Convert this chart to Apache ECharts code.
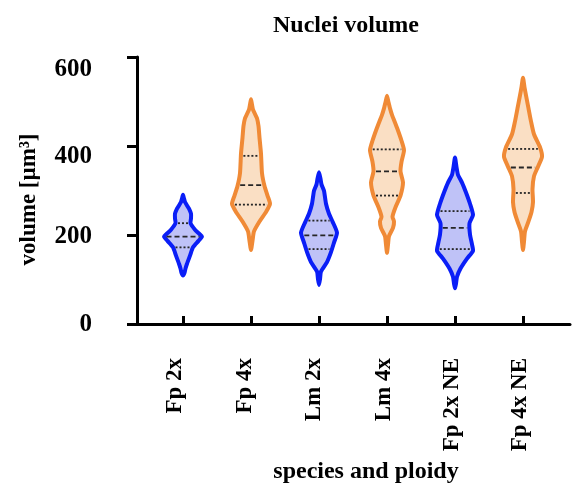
<!DOCTYPE html>
<html><head><meta charset="utf-8">
<script src="https://cdn.jsdelivr.net/npm/echarts@6/dist/echarts.min.js"></script>
<style>html,body{margin:0;padding:0;background:#fff}#c{width:572px;height:489px}</style>
</head><body><div id="c"></div>
<script>
// ---- data ----
const categories = ['Fp 2x', 'Fp 4x', 'Lm 2x', 'Lm 4x', 'Fp 2x NE', 'Fp 4x NE'];
const ploidy = ['2x', '4x', '2x', '4x', '2x', '4x'];
const yTicks = [0, 200, 400, 600];

// violin outlines, top to bottom: [volume, relative density (half-width)]
const violinFp2x = [[281,0],[272,1],[264,2],[256,4],[249,6],[237,8],[226,8],[215,7.5],[200,12],[190,16.5],[184,19],[174,15.5],[159,10],[140,7],[121,4],[110,2.5],[100,1.5],[94,0]];
const violinFp4x = [[502,0],[490,1],[478,2],[468,4],[458,6],[440,7.5],[413,8.5],[376,10],[331,11],[301,13.5],[279,16.5],[260,19],[241,15],[219,8.5],[196,3],[174,1.5],[153,0]];
const violinLm2x = [[333,0],[318,1.5],[305,2.5],[290,5],[260,7],[237,10],[219,13.5],[193,18],[170,15],[148,12],[125,8],[103,2],[85,1],[72,0]];
const violinLm4x = [[510,0],[495,1.5],[481,3],[466,5],[436,10],[406,14.5],[384,17],[357,14.5],[335,13.5],[309,16],[279,13.5],[252,8.5],[230,5.5],[219,7],[204,6],[185,2],[165,1],[146,0]];
const violinFp2xNE = [[367,0],[345,1.5],[327,3],[309,7],[286,11],[260,15],[234,18],[215,14.5],[189,15],[166,17],[151,18],[133,12],[110,5.5],[91,2],[75,1],[64,0]];
const violinFp4xNE = [[552,0],[530,1.5],[511,3],[481,5.5],[451,8],[421,11],[391,17],[369,19],[346,15],[324,11],[294,9.5],[264,10],[241,8.5],[219,5.5],[196,2],[172,1],[153,0]];

const q1Values     = [159, 258, 155, 279, 155, 285];
const medianValues = [184, 303, 187, 335, 204, 344];
const q3Values     = [215, 371, 221, 386, 243, 387];

// ---- chart ----
const profiles = [violinFp2x, violinFp4x, violinLm2x, violinLm4x, violinFp2xNE, violinFp4xNE];
const palette = {
  '2x': { stroke: '#0a1ef7', fill: '#bfc2f7' },
  '4x': { stroke: '#f08a36', fill: '#fadfc4' }
};
const FONT = "'Liberation Serif', 'Times New Roman', serif";
const catLabelShift = [15, 11, 10, 6, 5, 5];          // small label nudges seen in the reference
const yLabelShift = { 0: 2, 200: 4, 400: 22, 600: 26 };

function densityAt(prof, v) {
  for (let j = 0; j < prof.length - 1; j++) {
    const a = prof[j], b = prof[j + 1];
    if (v <= a[0] && v >= b[0]) {
      const t = (a[0] - v) / (a[0] - b[0] || 1);
      return a[1] + t * (b[1] - a[1]);
    }
  }
  return 0;
}

function renderItem(params, api) {
  const i = api.value(0);
  const prof = profiles[i];
  const band = api.size([1, 0])[0];
  const k = band / 68;
  const cx = api.coord([i, 0])[0];
  const right = prof.map(([v, d]) => [cx + d * k, api.coord([i, v])[1]]);
  const left = prof.slice(1, -1).reverse().map(([v, d]) => [cx - d * k, api.coord([i, v])[1]]);
  const col = palette[ploidy[i]];
  const children = [{
    type: 'polygon',
    shape: { points: right.concat(left), smooth: 0.2 },
    style: { fill: col.fill, stroke: col.stroke, lineWidth: 4, lineJoin: 'round' }
  }];
  const qs = [[q1Values[i], [2, 2]], [medianValues[i], [5, 3]], [q3Values[i], [2, 2]]];
  qs.forEach(([v, dash]) => {
    const w = densityAt(prof, v) * k - 2.5;
    const y = api.coord([i, v])[1];
    children.push({
      type: 'line',
      shape: { x1: cx - w, y1: y, x2: cx + w, y2: y },
      style: { stroke: '#262626', lineWidth: 1.8, lineDash: dash }
    });
  });
  return { type: 'group', children };
}

const labelFont = { color: '#000', fontFamily: FONT, fontWeight: 'bold' };
const catRich = {};
categories.forEach((c, i) => { catRich['c' + i] = Object.assign({ fontSize: 23, padding: [0, 0, catLabelShift[i], 0] }, labelFont); });
const yRich = {};
yTicks.forEach(t => { yRich['t' + t] = Object.assign({ fontSize: 25, padding: [yLabelShift[t], 0, 0, 0] }, labelFont); });

const chart = echarts.init(document.getElementById('c'), null, { renderer: 'canvas' });
chart.setOption({
  animation: false,
  backgroundColor: '#fff',
  graphic: [{
    type: 'text', x: 346, y: 26,
    style: { text: 'Nuclei volume', font: 'bold 24px ' + FONT, fill: '#000', align: 'center', verticalAlign: 'middle' }
  }],
  grid: [
    { left: 137, right: 2, top: 57, bottom: 165 },
    { left: 149, width: 408, top: 57, bottom: 165 }
  ],
  xAxis: [
    { gridIndex: 0, type: 'value', min: 0, max: 1,
      axisLine: { show: true, lineStyle: { color: '#000', width: 3 } },
      axisTick: { show: false }, axisLabel: { show: false }, splitLine: { show: false } },
    { gridIndex: 1, type: 'category', data: categories, boundaryGap: true,
      axisLine: { show: false },
      axisTick: { show: true, alignWithLabel: true, length: 10, lineStyle: { color: '#000', width: 3 } },
      axisLabel: Object.assign({ rotate: 90, margin: 42, interval: 0, fontSize: 23, rich: catRich,
        formatter: (v, i) => '{c' + i + '|' + v + '}' }, labelFont),
      name: 'species and ploidy', nameLocation: 'middle', nameGap: 144,
      nameTextStyle: Object.assign({ fontSize: 24, padding: [0, 0, 0, 26] }, labelFont) }
  ],
  yAxis: [
    { gridIndex: 0, type: 'value', min: yTicks[0], max: yTicks[yTicks.length - 1], interval: yTicks[1] - yTicks[0],
      axisLine: { show: true, lineStyle: { color: '#000', width: 3 } },
      axisTick: { show: true, length: 10, lineStyle: { color: '#000', width: 3 } },
      axisLabel: Object.assign({ margin: 45, fontSize: 25, rich: yRich,
        formatter: v => '{t' + v + '|' + v + '}' }, labelFont),
      splitLine: { show: false },
      name: 'volume [µm³]', nameLocation: 'middle', nameGap: 96,
      nameTextStyle: Object.assign({ fontSize: 23, padding: [0, 18, 0, 0] }, labelFont) },
    { gridIndex: 1, type: 'value', min: 0, max: 600, show: false }
  ],
  series: [{
    type: 'custom', xAxisIndex: 1, yAxisIndex: 1,
    renderItem,
    encode: { x: 0 },
    data: categories.map((c, i) => [i])
  }]
});
</script>
</body></html>
